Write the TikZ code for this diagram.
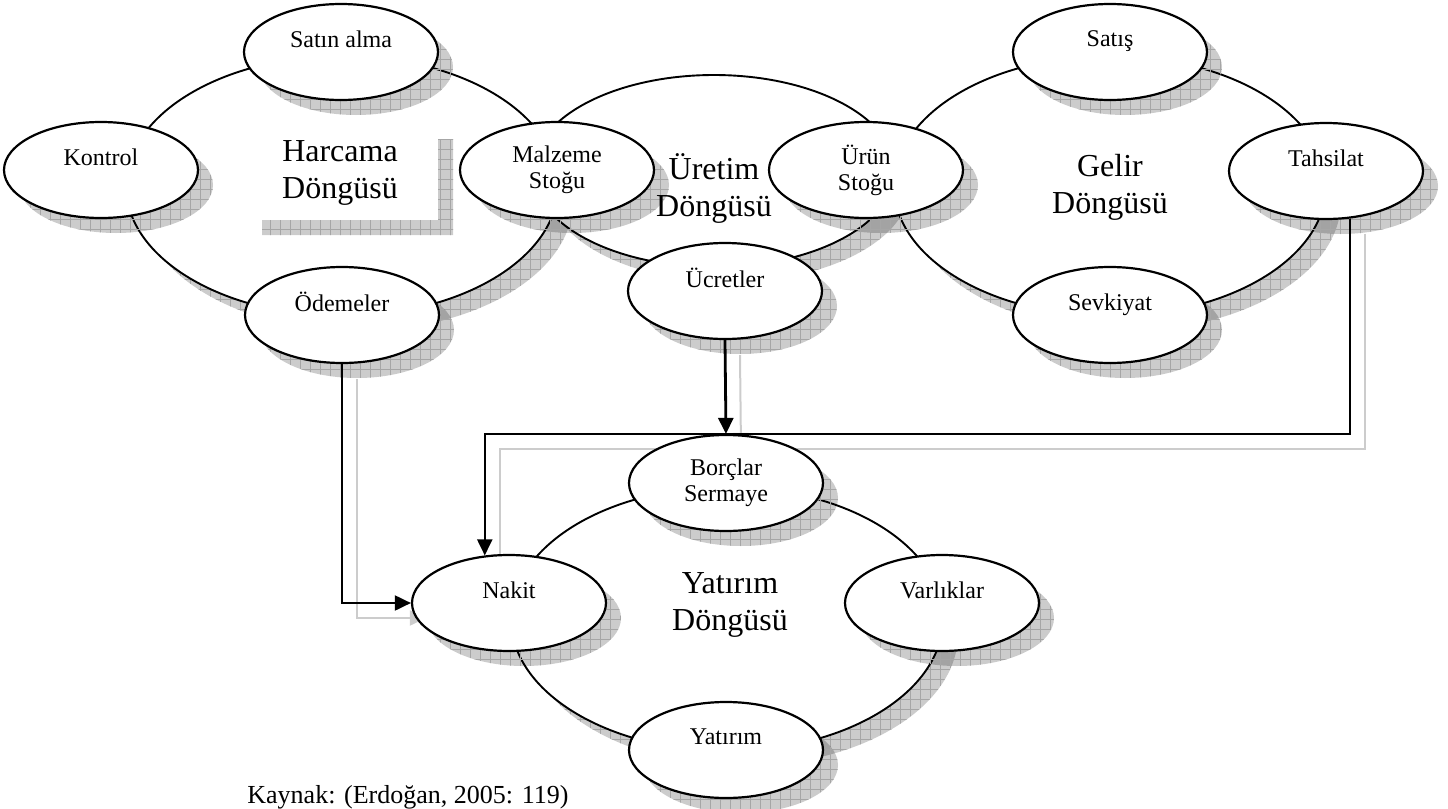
\documentclass[tikz,border=0pt]{standalone}
\usepackage{fontspec}
\setmainfont{Liberation Serif}
\usetikzlibrary{shapes.geometric,arrows.meta,patterns.meta,backgrounds}

\tikzset{
  grid shadow/.style={fill=black,fill opacity=0.2,
    postaction={pattern={Hatch[distance=5pt,line width=0.25pt]},pattern color=black!35,fill opacity=0.5}},
  stage/.style={ellipse,draw,line width=1.1pt,fill=white,minimum width=97pt,minimum height=48pt,
    inner sep=0pt,align=center,font=\fontsize{12}{13}\selectfont,
    preaction={grid shadow,transform canvas={xshift=7.5pt,yshift=-7.5pt}}},
  bigtitle/.style={align=center,font=\fontsize{16}{18.5}\selectfont},
  loopline/.style={line width=0.95pt},
  flow/.style={line width=1pt,-{Triangle[length=8pt,width=7.5pt]}},
  flowshadow/.style={gray!40,line width=1pt,-{Triangle[length=8pt,width=7.5pt]},
    transform canvas={xshift=7.5pt,yshift=-7.5pt}}
}

\begin{document}
\begin{tikzpicture}[x=0.5pt,y=-0.5pt]
  \useasboundingbox (0,0) rectangle (1448,809);
  % harcama cycle
  \node[stage] (satin) at (341,52) {Satın alma\\ \mbox{}};
  \node[stage] (kontrol) at (101,170) {Kontrol\\ \mbox{}};
  \node[stage] (malzeme) at (557,170) {Malzeme\\Stoğu};
  \node[stage] (odemeler) at (342,315) {Ödemeler\\ \mbox{}};
  % uretim cycle
  \node[stage] (urun) at (866,170) {Ürün\\Stoğu};
  \node[stage] (ucretler) at (725,291) {Ücretler\\ \mbox{}};
  % gelir cycle
  \node[stage] (satis) at (1110,52) {Satış\\ \mbox{}};
  \node[stage] (tahsilat) at (1326,171) {Tahsilat\\ \mbox{}};
  \node[stage] (sevkiyat) at (1110,315) {Sevkiyat\\ \mbox{}};
  % yatirim cycle
  \node[stage] (borclar) at (726,483) {Borçlar\\Sermaye};
  \node[stage] (nakit) at (509,603) {Nakit\\ \mbox{}};
  \node[stage] (varliklar) at (942,603) {Varlıklar\\ \mbox{}};
  \node[stage] (yatirim) at (726,750) {Yatırım\\ \mbox{}};

  \begin{pgfonlayer}{background}
    % big loops, shadow then white
    \fill[grid shadow] (357,201) ellipse [x radius=108pt,y radius=65pt];
    \fill[white] (342,186) ellipse [x radius=108pt,y radius=65pt];
    \fill[grid shadow] (729,186) ellipse [x radius=90.5pt,y radius=48pt];
    \fill[white] (714,171) ellipse [x radius=90.5pt,y radius=48pt];
    \fill[grid shadow] (1125,201) ellipse [x radius=108pt,y radius=65pt];
    \fill[white] (1110,186) ellipse [x radius=108pt,y radius=65pt];
    \fill[grid shadow] (742,634) ellipse [x radius=108pt,y radius=66pt];
    \fill[white] (727,619) ellipse [x radius=108pt,y radius=66pt];
    \draw[loopline] (342,186) ellipse [x radius=108pt,y radius=65pt];
    \draw[loopline] (714,171) ellipse [x radius=90.5pt,y radius=48pt];
    \draw[loopline] (1110,186) ellipse [x radius=108pt,y radius=65pt];
    \draw[loopline] (727,619) ellipse [x radius=108pt,y radius=66pt];
    % shadow of the harcama title box
    \fill[grid shadow] (438,139) -- (453,139) -- (453,235) -- (262,235) -- (262,220) -- (438,220) -- cycle;
    % shadows of the flows
    \draw[flowshadow] (odemeler.south) |- (nakit.west);
    \draw[flowshadow] (ucretler.south) -- (borclar.north);
    \draw[flowshadow] (tahsilat.-63) |- (borclar.north) -| (nakit.117);
  \end{pgfonlayer}

  % flows
  \draw[flow] (odemeler.south) |- (nakit.west);
  \draw[flow,line width=1.4pt] (ucretler.south) -- (borclar.north);
  \draw[flow] (tahsilat.-63) |- (borclar.north) -| (nakit.117);

  % cycle titles
  \node[bigtitle] (harcamat) at (340,173) {Harcama\\Döngüsü};
  \node[bigtitle] (uretimt) at (714,188) {Üretim\\Döngüsü};
  \node[bigtitle] (gelirt) at (1110,187) {Gelir\\Döngüsü};
  \node[bigtitle] (yatirimt) at (730,605) {Yatırım\\Döngüsü};

  \node[anchor=base west,inner sep=0pt,font=\fontsize{13}{16}\selectfont] (kaynak) at (247,803) {Kaynak: (Erdoğan, 2005: 119)};
\end{tikzpicture}
\end{document}
